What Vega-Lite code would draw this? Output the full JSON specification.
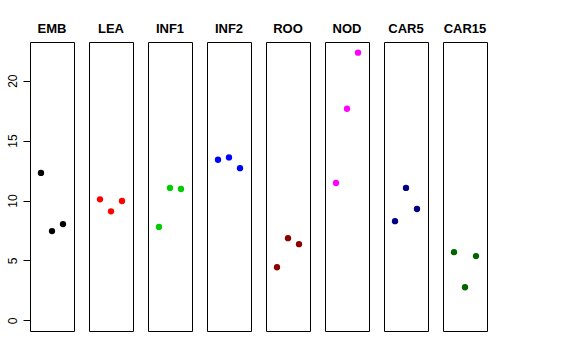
{
  "$schema": "https://vega.github.io/schema/vega-lite/v6.json",
  "background": "white",
  "padding": {"left": 6, "top": 23, "right": 5, "bottom": 5},
  "bounds": "flush",
  "data": {"values": [
    {"group": "EMB", "pos": 1, "value": 12.3},
    {"group": "EMB", "pos": 2, "value": 7.45},
    {"group": "EMB", "pos": 3, "value": 8.03},
    {"group": "LEA", "pos": 1, "value": 10.1},
    {"group": "LEA", "pos": 2, "value": 9.1},
    {"group": "LEA", "pos": 3, "value": 9.96},
    {"group": "INF1", "pos": 1, "value": 7.8},
    {"group": "INF1", "pos": 2, "value": 11.05},
    {"group": "INF1", "pos": 3, "value": 10.96},
    {"group": "INF2", "pos": 1, "value": 13.4},
    {"group": "INF2", "pos": 2, "value": 13.6},
    {"group": "INF2", "pos": 3, "value": 12.7},
    {"group": "ROO", "pos": 1, "value": 4.43},
    {"group": "ROO", "pos": 2, "value": 6.86},
    {"group": "ROO", "pos": 3, "value": 6.36},
    {"group": "NOD", "pos": 1, "value": 11.46},
    {"group": "NOD", "pos": 2, "value": 17.66},
    {"group": "NOD", "pos": 3, "value": 22.34},
    {"group": "CAR5", "pos": 1, "value": 8.28},
    {"group": "CAR5", "pos": 2, "value": 11.05},
    {"group": "CAR5", "pos": 3, "value": 9.29},
    {"group": "CAR15", "pos": 1, "value": 5.69},
    {"group": "CAR15", "pos": 2, "value": 2.76},
    {"group": "CAR15", "pos": 3, "value": 5.36}
  ]},
  "facet": {
    "column": {
      "field": "group",
      "type": "nominal",
      "sort": ["EMB", "LEA", "INF1", "INF2", "ROO", "NOD", "CAR5", "CAR15"],
      "header": {
        "title": null,
        "labelFont": "Liberation Sans",
        "labelFontWeight": "bold",
        "labelFontSize": 13,
        "labelColor": "black",
        "labelPadding": 6
      }
    }
  },
  "spacing": 15,
  "spec": {
    "width": 44,
    "height": 289,
    "mark": {"type": "circle", "size": 40, "opacity": 1},
    "encoding": {
      "x": {"field": "pos", "type": "quantitative", "scale": {"domain": [0, 4]}, "axis": null},
      "y": {
        "field": "value",
        "type": "quantitative",
        "scale": {"domain": [-0.89, 23.23], "nice": false, "zero": false},
        "axis": {
          "title": null,
          "values": [0, 5, 10, 15, 20],
          "grid": false,
          "domain": false,
          "tickSize": 7,
          "tickColor": "black",
          "labelAngle": -90,
          "labelAlign": "center",
          "labelBaseline": "bottom",
          "labelPadding": 4,
          "labelFont": "Liberation Sans",
          "labelFontSize": 12,
          "labelColor": "black"
        }
      },
      "color": {
        "field": "group",
        "type": "nominal",
        "scale": {
          "domain": ["EMB", "LEA", "INF1", "INF2", "ROO", "NOD", "CAR5", "CAR15"],
          "range": ["#000000", "#FF0000", "#00CD00", "#0000FF", "#8B0000", "#FF00FF", "#000080", "#006400"]
        },
        "legend": null
      }
    }
  },
  "config": {
    "view": {"stroke": "black", "strokeWidth": 1},
    "axis": {"labelFont": "Liberation Sans"}
  }
}
